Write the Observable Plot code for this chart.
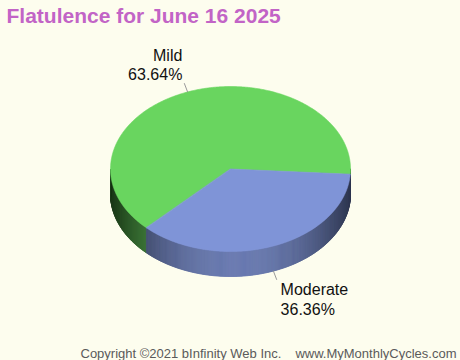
<!DOCTYPE html>
<html><head><meta charset="utf-8">
<script src="https://cdn.jsdelivr.net/npm/d3@7"></script>
<script src="https://cdn.jsdelivr.net/npm/@observablehq/plot@0.6"></script>
<style>
html,body{margin:0;padding:0;background:#fdfdee;}
</style></head><body><div id="chart"></div>
<script>
const categories = ["Mild", "Moderate"];
const values = [63.64, 36.36];
const percentLabels = ["63.64%", "36.36%"];
const colors = ["#69d55f", "#7f94d7"];
const title = "Flatulence for June 16 2025";
const footerLeft = "Copyright ©2021 bInfinity Web Inc.";
const footerRight = "www.MyMonthlyCycles.com";

const W = 460, H = 360;
const cx = 230, cy = 168.5, rx = 120, ry = 82.5, depth = 25;
const startDeg = 224.5;
const rad = Math.PI / 180;

const arcs = d3.pie().sort(null)
  .startAngle(startDeg * rad).endAngle((startDeg + 360) * rad)(values);

const pt = (t, dy = 0) => [cx + rx * Math.cos(t), cy + ry * Math.sin(t) + dy];

function shade(hex, u) {
  const c = d3.rgb(hex);
  const k = 0.82 - 0.5 * (u - 0.05) * (u - 0.05);
  return d3.rgb(c.r * k, c.g * k, c.b * k).formatHex();
}

// top faces
const topRows = [];
// side segments
const sideRows = [];
const leaderRows = [];
const labelRows = [];
arcs.forEach((a, i) => {
  const t0 = a.startAngle - Math.PI / 2, t1 = a.endAngle - Math.PI / 2;
  const id = "top" + i;
  const [ax, ay] = [cx, cy];
  topRows.push({id, x: ax, y: ay, color: colors[i]});
  const n = Math.max(2, Math.ceil((t1 - t0) / (0.5 * rad)));
  for (let k = 0; k <= n; k++) {
    const t = t0 + (t1 - t0) * k / n;
    const [x, y] = pt(t);
    topRows.push({id, x, y, color: colors[i]});
  }
  for (let k = 0; k < n; k++) {
    const ta = t0 + (t1 - t0) * k / n, tb = t0 + (t1 - t0) * (k + 1) / n;
    const tm = (ta + tb) / 2;
    if (Math.sin(tm) <= 0) continue;
    const sid = "side" + i + "_" + k;
    const col = shade(colors[i], Math.cos(tm));
    [pt(ta), pt(tb), pt(tb, depth), pt(ta, depth)].forEach(([x, y]) =>
      sideRows.push({id: sid, x, y, color: col}));
  }
  // leader line and labels
  const tm = (t0 + t1) / 2;
  const front = Math.sin(tm) > 0;
  const [sx, sy] = pt(tm, front ? depth : 0);
  const dx = Math.cos(tm), dy = Math.sin(tm);
  const ex = sx + dx * 9, ey = sy + dy * 9;
  leaderRows.push({id: "l" + i, x: sx, y: sy}, {id: "l" + i, x: ex, y: ey});
  const right = dx > 0;
  const lx = right ? ex + 4 : ex - 2;
  const base1 = dy > 0 ? ey + 16 : ey - 23;
  labelRows.push({x: lx, y: base1, text: categories[i], anchor: right ? "start" : "end"});
  labelRows.push({x: lx, y: base1 + 19.5, text: percentLabels[i], anchor: right ? "start" : "end"});
});

const font = "Liberation Sans, Arial, Helvetica, sans-serif";

const chart = Plot.plot({
  width: W, height: H, margin: 0,
  x: {domain: [0, W], range: [0, W], axis: null},
  y: {domain: [0, H], range: [0, H], axis: null},
  color: {type: "identity"},
  style: {background: "#fdfdee", fontFamily: font},
  marks: [
    Plot.line(sideRows, {x: "x", y: "y", z: "id", fill: "color", stroke: "color", strokeWidth: 0.7, curve: "linear-closed"}),
    Plot.line(topRows, {x: "x", y: "y", z: "id", fill: "color", stroke: "color", strokeWidth: 0.6, curve: "linear-closed"}),
    Plot.line(leaderRows, {x: "x", y: "y", z: "id", stroke: "#999999", strokeWidth: 1}),
    Plot.text(labelRows.filter(d => d.anchor === "start"), {x: "x", y: "y", text: "text", textAnchor: "start", lineAnchor: "bottom", fontSize: 16, fill: "#111111", fontFamily: font}),
    Plot.text(labelRows.filter(d => d.anchor === "end"), {x: "x", y: "y", text: "text", textAnchor: "end", lineAnchor: "bottom", fontSize: 16, fill: "#111111", fontFamily: font}),
    Plot.text([title], {frameAnchor: "top-left", dx: 6, dy: 22, text: d => d, textAnchor: "start", lineAnchor: "bottom", fontSize: 21, fontWeight: "bold", fill: "#c264c6", fontFamily: font}),
    Plot.text([footerLeft], {frameAnchor: "bottom-left", dx: 80, dy: -3, text: d => d, textAnchor: "start", lineAnchor: "bottom", fontSize: 13, fill: "#5a5a5a", fontFamily: font}),
    Plot.text([footerRight], {frameAnchor: "bottom-right", dx: -4, dy: -3, text: d => d, textAnchor: "end", lineAnchor: "bottom", fontSize: 13, fill: "#5a5a5a", fontFamily: font})
  ]
});
document.getElementById("chart").appendChild(chart);
</script>
</body></html>
